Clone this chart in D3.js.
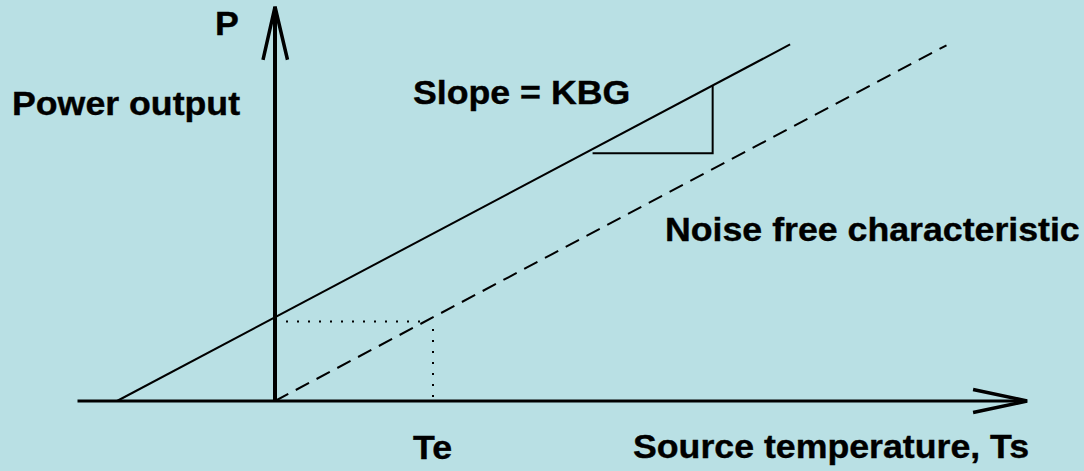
<!DOCTYPE html>
<html>
<head>
<meta charset="utf-8">
<script src="https://cdn.jsdelivr.net/npm/d3@7"></script>
<style>
  html, body { margin: 0; padding: 0; background: #b9e0e4; }
  svg { display: block; }
  text { font-family: "Liberation Sans", Arial, sans-serif; font-weight: bold; fill: #000; stroke: #000; stroke-width: 0.4px; }
</style>
</head>
<body>
<div id="chart"></div>
<script>
const width = 1084;
const height = 471;

// data, in units of Te (x) and KBG*Te (y)
const xAxisRange = [-1.25, 4.76];
const yAxisRange = [0, 4.71];
const measuredLine = [[-1, 0], [3.26, 4.26]];   // with receiver noise
const noiseFreeLine = [[0, 0], [4.25, 4.25]];
const teGuideH = [[0, 0.95], [0.94, 0.95]];
const teGuideV = [[1, 0.86], [1, 0]];
const slopeTriangle = [[2.01, 2.96], [2.77, 2.96], [2.77, 3.77]];

const labels = [
  { text: "P", x: 215, y: 35 },
  { text: "Power output", x: 12, y: 115 },
  { text: "Slope = KBG", x: 413, y: 104 },
  { text: "Noise free characteristic", x: 665, y: 241 },
  { text: "Te", x: 413, y: 459 },
  { text: "Source temperature, Ts", x: 633, y: 458 }
];

const x = d3.scaleLinear().domain([0, 1]).range([275, 433]);
const y = d3.scaleLinear().domain([0, 1]).range([401, 317.3]);

const svg = d3.select("#chart")
  .append("svg")
  .attr("width", width)
  .attr("height", height);

const line = d3.line()
  .x(d => x(d[0]))
  .y(d => y(d[1]));

// axes
svg.append("line")
  .attr("x1", x(xAxisRange[0])).attr("x2", x(xAxisRange[1]))
  .attr("y1", y(0)).attr("y2", y(0))
  .attr("stroke", "#000").attr("stroke-width", 3);

svg.append("line")
  .attr("x1", x(0)).attr("x2", x(0))
  .attr("y1", y(yAxisRange[0])).attr("y2", y(yAxisRange[1]))
  .attr("stroke", "#000").attr("stroke-width", 4);

// open arrow heads
const xTip = [x(xAxisRange[1]), y(0)];
svg.append("path")
  .attr("d", `M${xTip[0] - 54},${xTip[1] - 11.5}L${xTip[0]},${xTip[1]}L${xTip[0] - 54},${xTip[1] + 11.5}`)
  .attr("fill", "none").attr("stroke", "#000").attr("stroke-width", 3.5);

const yTip = [x(0), y(yAxisRange[1])];
svg.append("path")
  .attr("d", `M${yTip[0] - 12},${yTip[1] + 53}L${yTip[0]},${yTip[1]}L${yTip[0] + 12.5},${yTip[1] + 53}`)
  .attr("fill", "none").attr("stroke", "#000").attr("stroke-width", 3.5);

// characteristic lines
svg.append("path")
  .attr("d", line(measuredLine))
  .attr("fill", "none").attr("stroke", "#000").attr("stroke-width", 2);

svg.append("path")
  .attr("d", line(noiseFreeLine))
  .attr("fill", "none").attr("stroke", "#000").attr("stroke-width", 2)
  .attr("stroke-dasharray", "15 8.5");

// dotted guides to Te
[teGuideH, teGuideV].forEach(pts => {
  svg.append("path")
    .attr("d", line(pts))
    .attr("fill", "none").attr("stroke", "#000").attr("stroke-width", 2)
    .attr("stroke-dasharray", "2 9");
});

// slope triangle
svg.append("path")
  .attr("d", line(slopeTriangle))
  .attr("fill", "none").attr("stroke", "#000").attr("stroke-width", 2);

// labels are a touch wider than Liberation Sans, so stretch them slightly
svg.selectAll("text.label")
  .data(labels)
  .enter()
  .append("text")
  .attr("class", "label")
  .attr("transform", d => `translate(${d.x},${d.y}) scale(1.05,1)`)
  .style("font-size", "34px")
  .text(d => d.text);
</script>
</body>
</html>
